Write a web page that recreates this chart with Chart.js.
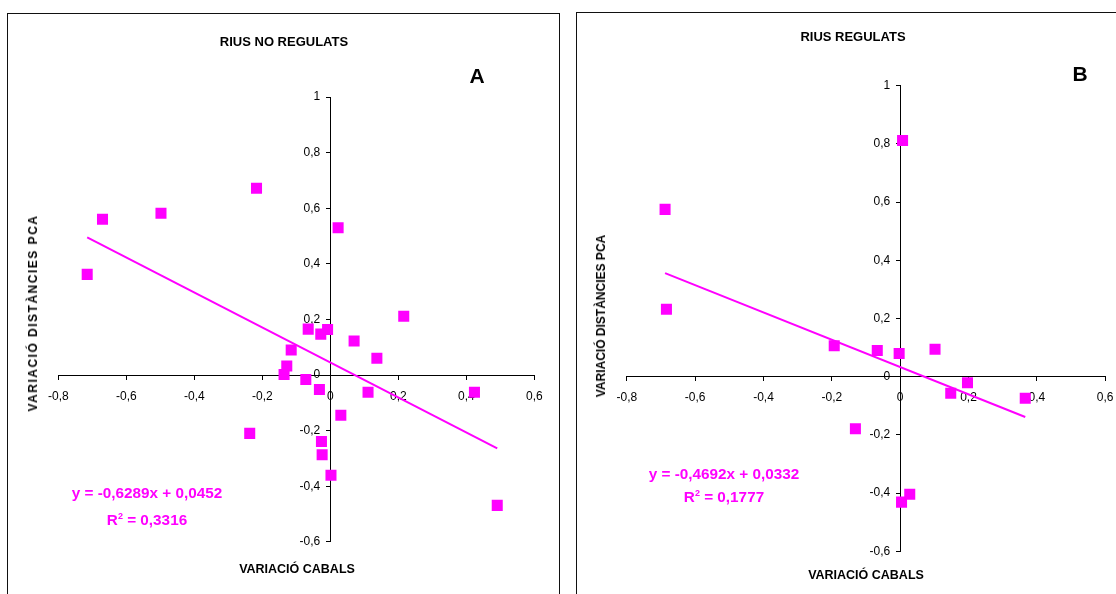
<!DOCTYPE html>
<html lang="ca">
<head>
<meta charset="utf-8">
<title>Variació cabals vs variació distàncies PCA</title>
<script src="https://cdn.jsdelivr.net/npm/chart.js@4/dist/chart.umd.min.js"></script>
<style>
  html, body { margin: 0; padding: 0; background: #fff; }
  #page { position: relative; width: 1116px; height: 594px; overflow: hidden; background: #fff;
          font-family: "Liberation Sans", Arial, sans-serif; color: #000; }
  .frame { position: absolute; border: 1px solid #111; box-sizing: border-box; }
  canvas { position: absolute; top: 0; }
  .lbl { position: absolute; white-space: nowrap; transform: translate(-50%, -50%); font-weight: bold; line-height: 1; }
  .eq { color: #ff00ff; font-size: 15.3px; }
  .eq sup { font-size: 9px; vertical-align: 6px; line-height: 0; }
  .vtitle { transform: translate(-50%, -50%) rotate(-90deg); }
</style>
</head>
<body>
<div id="page">
  <div class="frame" style="left:7px; top:13px; width:553px; height:620px;"></div>
  <div class="frame" style="left:576px; top:12px; width:600px; height:620px;"></div>

  <canvas id="chartA" width="560" height="594" style="left:0px;"></canvas>
  <canvas id="chartB" width="586" height="594" style="left:570px;"></canvas>

  <div class="lbl" style="left:284px; top:41px; font-size:13px;">RIUS NO REGULATS</div>
  <div class="lbl" style="left:477px; top:75px; font-size:21px;">A</div>
  <div class="lbl vtitle" style="left:33px; top:313px; font-size:12px; letter-spacing:1.5px;">VARIACIÓ DISTÀNCIES PCA</div>
  <div class="lbl" style="left:297px; top:569px; font-size:12.5px;">VARIACIÓ CABALS</div>
  <div class="lbl eq" id="eqA" style="left:147px; top:493px;"></div>
  <div class="lbl eq" id="r2A" style="left:147px; top:520px;"></div>

  <div class="lbl" style="left:853px; top:36px; font-size:13px;">RIUS REGULATS</div>
  <div class="lbl" style="left:1080px; top:73px; font-size:21px;">B</div>
  <div class="lbl vtitle" style="left:601px; top:316px; font-size:12px;">VARIACIÓ DISTÀNCIES PCA</div>
  <div class="lbl" style="left:866px; top:575px; font-size:12.5px;">VARIACIÓ CABALS</div>
  <div class="lbl eq" id="eqB" style="left:724px; top:474px;"></div>
  <div class="lbl eq" id="r2B" style="left:724px; top:497px;"></div>
</div>

<script>
// Rius no regulats: variació de cabals (x) i variació de distàncies PCA (y)
const flowChangeA = [-0.715, -0.670, -0.498, -0.217, 0.023, 0.216, -0.065, -0.028, -0.008, 0.070,
                     0.137, -0.115, -0.128, -0.136, -0.072, -0.032, 0.111, 0.424, 0.031, -0.237,
                     -0.026, -0.024, 0.002, 0.491];
const pcaChangeA  = [0.362, 0.560, 0.582, 0.672, 0.530, 0.211, 0.165, 0.147, 0.164, 0.122,
                     0.060, 0.090, 0.032, 0.002, -0.016, -0.052, -0.062, -0.062, -0.145, -0.210,
                     -0.239, -0.287, -0.361, -0.469];

// Rius regulats
const flowChangeB = [0.007, -0.688, -0.684, -0.193, -0.067, -0.003, 0.102, 0.197, 0.148, 0.366,
                     -0.131, 0.028, 0.004];
const pcaChangeB  = [0.812, 0.575, 0.232, 0.106, 0.090, 0.080, 0.094, -0.021, -0.057, -0.074,
                     -0.179, -0.404, -0.431];

// Regressió lineal (línia de tendència)
const slopeA = -0.6289, interceptA = 0.0452, r2A = 0.3316;
const slopeB = -0.4692, interceptB = 0.0332, r2B = 0.1777;

// Marques dels eixos
const xTickValues = [-0.8, -0.6, -0.4, -0.2, 0, 0.2, 0.4, 0.6];
const yTickValues = [-0.6, -0.4, -0.2, 0, 0.2, 0.4, 0.6, 0.8, 1];

const MAGENTA = '#ff00ff';
const FONT = '"Liberation Sans", Arial, sans-serif';

function fmt(v, digits) {
  const s = digits === undefined ? String(Math.round(v * 10) / 10) : v.toFixed(digits);
  return s.replace('.', ',');
}

function equationText(m, b) {
  return 'y = ' + fmt(m, 4) + 'x ' + (b < 0 ? '- ' : '+ ') + fmt(Math.abs(b), 4);
}

function trendPoints(xs, m, b) {
  const lo = Math.min(...xs), hi = Math.max(...xs);
  return [{ x: lo, y: m * lo + b }, { x: hi, y: m * hi + b }];
}

function makeChart(id, xs, ys, m, b, padding) {
  const pts = xs.map((x, i) => ({ x: x, y: ys[i] }));
  const axisCommon = {
    type: 'linear',
    border: { display: true, color: '#000', width: 1 },
    grid: { display: true, drawOnChartArea: false, drawTicks: true, tickLength: 4, color: '#000', lineWidth: 1 },
    ticks: { color: '#000', font: { family: FONT, size: 12 }, autoSkip: false, maxRotation: 0 }
  };
  return new Chart(document.getElementById(id), {
    type: 'scatter',
    data: {
      datasets: [
        { type: 'line', data: trendPoints(xs, m, b), borderColor: MAGENTA, borderWidth: 2,
          pointRadius: 0, fill: false, tension: 0, order: 2 },
        { data: pts, pointStyle: 'rect', pointRadius: 7.8, pointHoverRadius: 7.8,
          backgroundColor: MAGENTA, borderWidth: 0, order: 1 }
      ]
    },
    options: {
      responsive: false,
      animation: false,
      devicePixelRatio: 1,
      layout: { padding: padding },
      plugins: { legend: { display: false }, tooltip: { enabled: false }, title: { display: false } },
      scales: {
        x: Object.assign({}, axisCommon, {
          min: -0.8, max: 0.6, position: { y: 0 },
          ticks: Object.assign({}, axisCommon.ticks, { padding: 10, callback: v => fmt(v) }),
          afterBuildTicks: s => { s.ticks = xTickValues.map(v => ({ value: v })); }
        }),
        y: Object.assign({}, axisCommon, {
          min: -0.6, max: 1, position: { x: 0 },
          // labels of a crossing axis sit flush with the line; trailing spaces keep them clear of the ticks
          ticks: Object.assign({}, axisCommon.ticks, { callback: v => fmt(v) + '   ' }),
          afterBuildTicks: s => { s.ticks = yTickValues.map(v => ({ value: v })); }
        })
      }
    }
  });
}

makeChart('chartA', flowChangeA, pcaChangeA, slopeA, interceptA,
          { left: 58.3, right: 25.7, top: 97, bottom: 52.2 });
makeChart('chartB', flowChangeB, pcaChangeB, slopeB, interceptB,
          { left: 56.8, right: 50.8, top: 85.7, bottom: 42.7 });

document.getElementById('eqA').textContent = equationText(slopeA, interceptA);
document.getElementById('r2A').innerHTML = 'R<sup>2</sup> = ' + fmt(r2A, 4);
document.getElementById('eqB').textContent = equationText(slopeB, interceptB);
document.getElementById('r2B').innerHTML = 'R<sup>2</sup> = ' + fmt(r2B, 4);
</script>
</body>
</html>
